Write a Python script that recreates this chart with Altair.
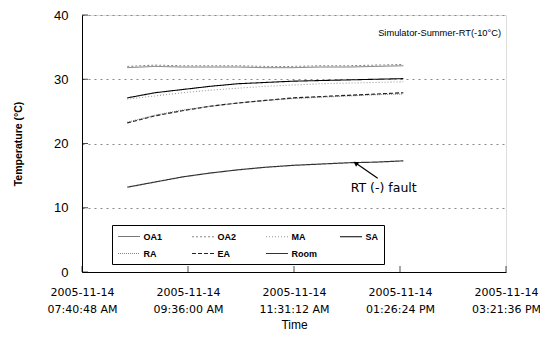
import altair as alt
import pandas as pd

times = ["2005-11-14T08:30:00Z", "2005-11-14T09:00:00Z", "2005-11-14T09:30:00Z",
         "2005-11-14T10:00:00Z", "2005-11-14T10:30:00Z", "2005-11-14T11:00:00Z",
         "2005-11-14T11:30:00Z", "2005-11-14T12:00:00Z", "2005-11-14T12:30:00Z",
         "2005-11-14T13:00:00Z", "2005-11-14T13:30:00Z"]

oa1 = [31.8, 32.0, 31.9, 31.9, 31.9, 31.8, 31.8, 31.9, 31.9, 32.0, 32.1]
oa2 = [32.0, 32.2, 32.1, 32.1, 32.1, 32.0, 32.0, 32.1, 32.1, 32.2, 32.3]
ma = [26.9, 27.4, 27.9, 28.3, 28.6, 28.9, 29.1, 29.3, 29.4, 29.5, 29.6]
sa = [27.1, 27.9, 28.4, 28.9, 29.3, 29.5, 29.7, 29.8, 29.9, 30.0, 30.1]
ra = [23.3, 24.4, 25.2, 25.8, 26.3, 26.7, 27.0, 27.2, 27.4, 27.6, 27.7]
ea = [23.2, 24.3, 25.1, 25.8, 26.3, 26.7, 27.1, 27.3, 27.5, 27.7, 27.9]
room = [13.2, 14.0, 14.8, 15.4, 15.9, 16.3, 16.6, 16.8, 17.0, 17.1, 17.3]

series_names = ["OA1", "OA2", "MA", "SA", "RA", "EA", "Room"]
series_vals = [oa1, oa2, ma, sa, ra, ea, room]
colors = ["#777777", "#888888", "#999999", "#000000", "#888888", "#222222", "#333333"]
dashes = [[1, 0], [2, 2], [1, 2], [1, 0], [1, 1], [4, 2], [1, 0]]
widths = [1.0, 1.2, 1.2, 2.2, 1.5, 1.2, 1.2]

y_ticks = [0, 10, 20, 30, 40]
x_tick_strs = ["2005-11-14T07:40:48Z", "2005-11-14T09:36:00Z", "2005-11-14T11:31:12Z",
               "2005-11-14T13:26:24Z", "2005-11-14T15:21:36Z"]

rows = []
for name, vals in zip(series_names, series_vals):
    for t, v in zip(times, vals):
        rows.append({"time": t, "series": name, "temp": v})
df = pd.DataFrame(rows)

def dt(h, m, s):
    return alt.DateTime(year=2005, month=11, date=14, hours=h, minutes=m, seconds=s, utc=True)

x_domain = [dt(7, 40, 48), dt(15, 21, 36)]
x_values = [dt(7, 40, 48), dt(9, 36, 0), dt(11, 31, 12), dt(13, 26, 24), dt(15, 21, 36)]

FONT = "Liberation Sans"

legend = alt.Legend(
    orient="none", legendX=30, legendY=210, columns=4, direction="horizontal",
    symbolType="M-2,0H2", symbolSize=121, symbolOffset=5.5, labelOffset=8,
    gridAlign="all",
    strokeColor="black", fillColor="white",
    padding=5, labelFont=FONT, labelFontSize=9, labelFontWeight="bold",
    labelColor="black", columnPadding=20, rowPadding=5,
)

lines = alt.Chart(df).mark_line().encode(
    x=alt.X("time:T",
            scale=alt.Scale(type="utc", domain=x_domain),
            axis=alt.Axis(values=x_values, title="Time",
                          labelExpr="[utcFormat(datum.value, '%Y-%m-%d'), utcFormat(datum.value, '%I:%M:%S %p')]",
                          grid=False, labelFont="DejaVu Sans", labelFontSize=11,
                          labelLineHeight=17, labelPadding=14, tickSize=0,
                          titleFont=FONT, titleFontSize=12, titleFontWeight="normal",
                          titlePadding=5, domainColor="black", labelColor="black",
                          titleColor="black", labelOverlap=False, labelFlush=False)),
    y=alt.Y("temp:Q",
            scale=alt.Scale(domain=[0, 40]),
            axis=alt.Axis(values=y_ticks, title="Temperature (°C)", grid=True,
                          gridDash=[2, 4], gridColor="#888888",
                          labelFont=FONT, labelFontSize=13, labelColor="black",
                          titleFont=FONT, titleFontSize=10.5, titleFontWeight="bold",
                          titleColor="black", titlePadding=30, tickSize=0,
                          domainColor="black", labelPadding=14)),
    color=alt.Color("series:N", title=None,
                    scale=alt.Scale(domain=series_names, range=colors), legend=legend),
    strokeDash=alt.StrokeDash("series:N", title=None,
                              scale=alt.Scale(domain=series_names, range=dashes), legend=legend),
    strokeWidth=alt.StrokeWidth("series:N", title=None,
                                scale=alt.Scale(domain=series_names, range=widths), legend=legend),
    detail="series:N",
)

ytick_df = pd.DataFrame({"x": [x_tick_strs[0]] * len(y_ticks), "y": y_ticks})
yticks = alt.Chart(ytick_df).mark_tick(orient="horizontal", size=6, thickness=1,
                                       color="black", xOffset=3).encode(x="x:T", y="y:Q")
xtick_df = pd.DataFrame({"x": x_tick_strs, "y": [0] * len(x_tick_strs)})
xticks = alt.Chart(xtick_df).mark_tick(orient="vertical", size=6, thickness=1,
                                       color="black", yOffset=-3).encode(x="x:T", y="y:Q")

arrow_df = pd.DataFrame({
    "x": ["2005-11-14T13:02:09Z"], "y": [14.6],
    "x2": ["2005-11-14T12:38:11Z"], "y2": [16.95],
})
arrow_line = alt.Chart(arrow_df).mark_rule(color="black", strokeWidth=1.2).encode(
    x="x:T", y="y:Q", x2="x2:T", y2="y2:Q")
arrow_head = alt.Chart(arrow_df).mark_point(
    shape="triangle-up", angle=304, filled=True, size=30, color="black", opacity=1
).encode(x="x2:T", y="y2:Q")

label_df = pd.DataFrame({"x": ["2005-11-14T13:08:42Z"], "y": [13.1], "text": ["RT (-) fault"]})
label = alt.Chart(label_df).mark_text(font="DejaVu Sans", fontSize=12.5, color="black").encode(
    x="x:T", y="y:Q", text="text:N")

title_df = pd.DataFrame({"x": ["2005-11-14T15:21:36Z"], "y": [37.2],
                         "text": ["Simulator-Summer-RT(-10°C)"]})
title_txt = alt.Chart(title_df).mark_text(font=FONT, fontSize=9.3, color="black",
                                          align="right", dx=-5).encode(
    x="x:T", y="y:Q", text="text:N")

chart = alt.layer(lines, yticks, xticks, arrow_line, arrow_head, label, title_txt).properties(
    width=424, height=257,
    padding={"left": 74, "top": 7, "right": 34, "bottom": 60},
    autosize="none",
).configure_view(stroke="#888888", strokeDash=[1, 2]).configure(background="white")

chart.save("out.html", embed_options={"renderer": "svg", "actions": False})
